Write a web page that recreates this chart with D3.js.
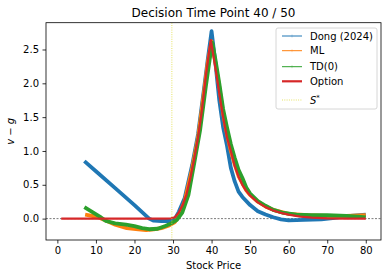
<!DOCTYPE html>
<html>
<head>
<meta charset="utf-8">
<script src="https://cdn.jsdelivr.net/npm/d3@7.9.0/dist/d3.min.js"></script>
<style>
  body { margin: 0; background: #fff; }
  svg { font-family: "DejaVu Sans", sans-serif; }
</style>
</head>
<body>
<svg id="chart"></svg>
<script>
// Data
const dongS = [7, 10, 15, 20, 23.8, 25, 27, 29.5, 30.5, 31.5, 33, 35, 36.5, 38, 39, 40, 41, 42, 43, 44, 45, 46, 47, 48, 50, 52, 54, 56, 58, 60, 64, 68.5, 72, 76, 80];
const dongV = [0.85, 0.70, 0.45, 0.2, 0.0, -0.03, -0.035, -0.035, 0.0, 0.1, 0.3, 0.8, 1.25, 1.9, 2.35, 2.77, 2.3, 1.75, 1.35, 1.08, 0.75, 0.55, 0.4, 0.32, 0.2, 0.11, 0.06, 0.02, -0.01, -0.025, -0.02, -0.01, 0.01, 0.04, 0.06];

const mlS = [7.2, 9, 11, 13, 15, 18, 21, 23, 25, 27, 29, 30.5, 31.5, 33, 35, 36.5, 38, 39, 40, 41, 42, 43, 44, 45, 46, 47, 48, 49, 50, 52, 54, 56, 58, 60, 65, 70, 75, 80];
const mlV = [0.06, 0.04, 0.01, -0.04, -0.09, -0.14, -0.16, -0.17, -0.16, -0.14, -0.1, -0.05, 0.04, 0.25, 0.75, 1.2, 1.85, 2.3, 2.62, 2.3, 1.95, 1.55, 1.25, 1.0, 0.8, 0.63, 0.52, 0.42, 0.35, 0.25, 0.18, 0.13, 0.1, 0.07, 0.05, 0.04, 0.04, 0.05];

const tdS = [7, 9, 11, 12.6, 15, 17.8, 20, 22, 23.8, 26, 28, 29.5, 31, 32.4, 34, 35.5, 37, 38.5, 39.5, 40.2, 41, 42, 43, 44, 45, 46, 47, 48, 49, 50, 52, 54, 56, 58.3, 62, 66, 70, 75, 78, 80];
const tdV = [0.17, 0.1, 0.03, -0.035, -0.07, -0.09, -0.11, -0.14, -0.157, -0.15, -0.11, -0.07, -0.02, 0.09, 0.35, 0.82, 1.3, 1.95, 2.35, 2.6, 2.35, 2.0, 1.62, 1.35, 1.1, 0.9, 0.72, 0.6, 0.46, 0.37, 0.26, 0.19, 0.13, 0.09, 0.06, 0.05, 0.05, 0.04, 0.03, 0.02];

const optS = [1, 10, 20, 28, 29.5, 30.5, 31.5, 32.5, 33.5, 34.5, 35.5, 36.5, 37.5, 38.5, 39.2, 39.8, 40.5, 41.3, 42, 43, 44, 45, 46, 47, 48, 49, 50, 52, 54, 56, 58, 60, 63, 66, 70, 75, 80];
const optV = [0, 0, 0, 0, 0.003, 0.02, 0.09, 0.2, 0.36, 0.6, 0.88, 1.2, 1.6, 2.1, 2.4, 2.64, 2.4, 2.12, 1.85, 1.5, 1.2, 1.0, 0.78, 0.62, 0.5, 0.41, 0.34, 0.24, 0.17, 0.12, 0.085, 0.06, 0.03, 0.015, 0.005, 0, 0];

const sStar = 29.7;
const xTicks = [0, 10, 20, 30, 40, 50, 60, 70, 80];
const yTicks = [0, 0.5, 1.0, 1.5, 2.0, 2.5];

const series = [
  { label: "Dong (2024)", color: "#1f77b4", s: dongS, v: dongV },
  { label: "ML", color: "#ff7f0e", s: mlS, v: mlV },
  { label: "TD(0)", color: "#2ca02c", s: tdS, v: tdV },
  { label: "Option", color: "#d62728", s: optS, v: optV }
];

// Layout
const W = 388, H = 278;
const margin = { top: 22.7, right: 7, bottom: 38, left: 46 };
const width = W - margin.left - margin.right,
      height = H - margin.top - margin.bottom;

const root = d3.select("#chart").attr("width", W).attr("height", H);
const svg = root.append("g")
  .attr("transform", `translate(${margin.left},${margin.top})`);

const x = d3.scaleLinear().domain([-2.95, 83.95]).range([0, width]);
const y = d3.scaleLinear().domain([-0.316, 2.896]).range([height, 0]);

svg.append("defs").append("clipPath").attr("id", "clip")
  .append("rect").attr("width", width).attr("height", height);

const plot = svg.append("g").attr("clip-path", "url(#clip)");

// Reference line at zero
plot.append("line")
  .attr("x1", 0).attr("x2", width)
  .attr("y1", y(0)).attr("y2", y(0))
  .attr("stroke", "#222")
  .attr("stroke-width", 0.6)
  .attr("stroke-dasharray", "2,1.5");

const line = d3.line()
  .x(d => x(d[0]))
  .y(d => y(d[1]));

series.forEach((sr, i) => {
  const pts = sr.s.map((s, j) => [s, sr.v[j]]);
  plot.append("path")
    .datum(pts)
    .attr("d", line)
    .attr("fill", "none")
    .attr("stroke", sr.color)
    .attr("stroke-width", i === 3 ? 2.2 : 3.8)
    .attr("stroke-linejoin", "round")
    .attr("stroke-linecap", "butt");
});

// S* line
plot.append("line")
  .attr("x1", x(sStar)).attr("x2", x(sStar))
  .attr("y1", 0).attr("y2", height)
  .attr("stroke", "#e0dc3c")
  .attr("stroke-width", 0.8)
  .attr("stroke-dasharray", "1,1.3");

// Axes
const xAxis = svg.append("g")
  .attr("transform", `translate(0,${height})`)
  .call(d3.axisBottom(x).tickValues(xTicks).tickSize(3.5).tickPadding(3.5));
const yAxis = svg.append("g")
  .call(d3.axisLeft(y).tickValues(yTicks).tickFormat(d3.format(".1f")).tickSize(3.5).tickPadding(3.5));

[xAxis, yAxis].forEach(a => {
  a.select(".domain").remove();
  a.selectAll("line").attr("stroke", "#000").attr("stroke-width", 0.8);
  a.selectAll("text").attr("font-size", 10).attr("fill", "#000")
    .attr("font-family", "DejaVu Sans, sans-serif");
});

// Frame
svg.append("rect")
  .attr("width", width).attr("height", height)
  .attr("fill", "none").attr("stroke", "#000").attr("stroke-width", 0.8);

// Title and labels
root.append("text")
  .attr("x", margin.left + width / 2).attr("y", 17)
  .attr("text-anchor", "middle").attr("font-size", 12)
  .text("Decision Time Point 40 / 50");

root.append("text")
  .attr("x", margin.left + width / 2).attr("y", 269)
  .attr("text-anchor", "middle").attr("font-size", 10)
  .text("Stock Price");

root.append("text")
  .attr("transform", `translate(14,${margin.top + height / 2}) rotate(-90)`)
  .attr("text-anchor", "middle").attr("font-size", 10)
  .attr("font-style", "italic")
  .text("v − g");

// Legend
const lg = root.append("g").attr("transform", "translate(276,28)");
lg.append("rect")
  .attr("width", 101).attr("height", 81)
  .attr("rx", 2)
  .attr("fill", "#fff").attr("fill-opacity", 0.8)
  .attr("stroke", "#ccc").attr("stroke-width", 0.8);

const legendItems = series.map(sr => ({ label: sr.label, color: sr.color }))
  .concat([{ label: "S", color: "#e0dc3c" }]);
const rowY = [8, 22.7, 38.7, 53.3, 72];

legendItems.forEach((d, i) => {
  const g = lg.append("g").attr("transform", `translate(0,${rowY[i]})`);
  const ln = g.append("line")
    .attr("x1", 6).attr("x2", 26)
    .attr("stroke", d.color);
  if (i < 3) {
    ln.attr("stroke-width", 1);
    g.append("line").attr("x1", 16).attr("x2", 16).attr("y1", -1.5).attr("y2", 1.5)
      .attr("stroke", d.color).attr("stroke-width", 0.4).attr("stroke-opacity", 0.7);
  } else if (i === 3) {
    ln.attr("stroke-width", 2.2);
  } else {
    ln.attr("stroke-width", 0.8).attr("stroke-dasharray", "1,1.3");
  }
  const t = g.append("text")
    .attr("x", 34).attr("y", 3.6)
    .attr("font-size", 10);
  if (i < 4) {
    t.text(d.label);
  } else {
    t.append("tspan").attr("font-style", "italic").text("S");
    t.append("tspan").attr("font-size", 7).attr("dy", -4).text("*");
  }
});
</script>
</body>
</html>
